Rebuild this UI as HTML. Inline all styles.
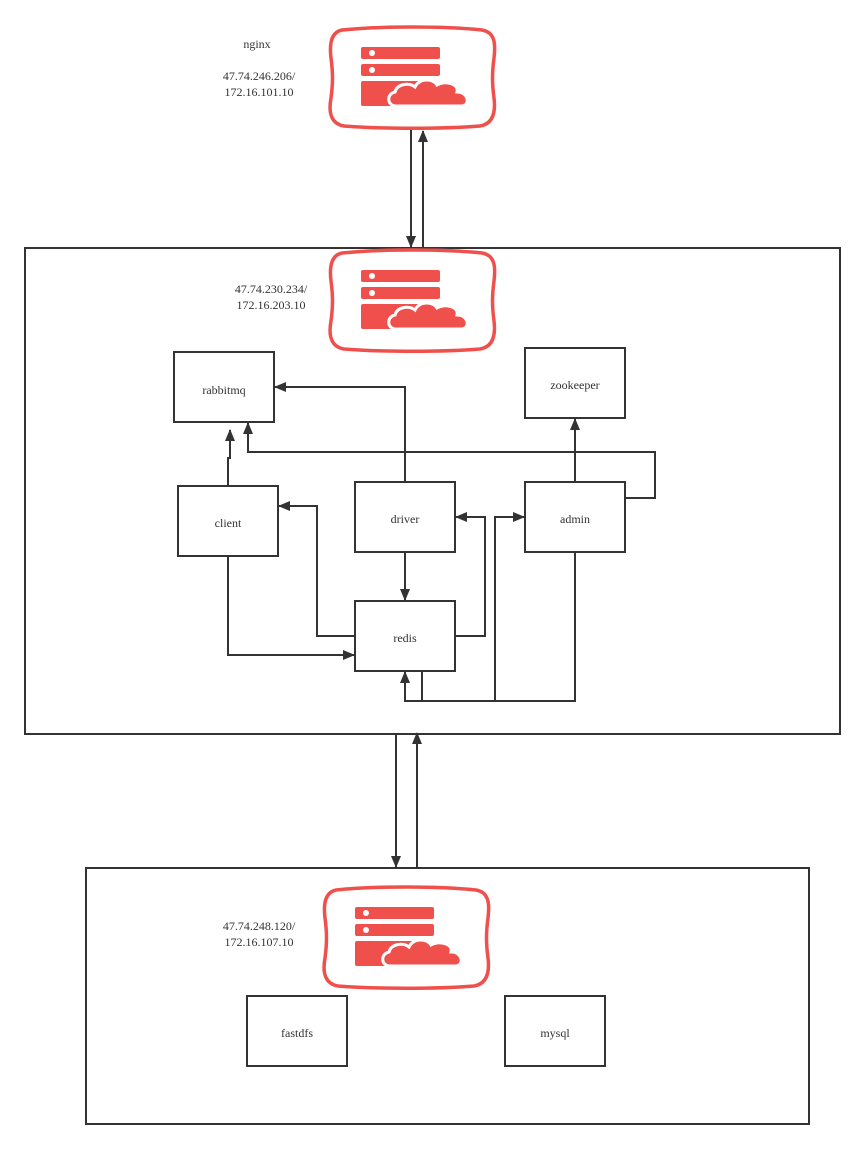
<!DOCTYPE html>
<html><head><style>body{margin:0;background:#fff}svg{display:block}text{font-family:"Liberation Serif",serif;font-size:12px;fill:#333;text-anchor:middle}</style></head><body>
<svg width="865" height="1149" viewBox="0 0 865 1149">
<defs>
<marker id="a" markerWidth="12" markerHeight="12" refX="11" refY="6" orient="auto" markerUnits="userSpaceOnUse"><path d="M0,1 L12,6 L0,11 Z" fill="#333"/></marker>
<g id="ic">
<path d="M12,2 C50,-2 114,-2 152,2 C164,4 166,14 164,30 C162,45 162,55 164,70 C166,86 162,96 150,98 C114,101 50,101 14,98 C2,96 -2,86 1,70 C3,55 3,45 1,30 C-1,14 2,4 12,2 Z" fill="#fff" stroke="#f0504c" stroke-width="3.5"/>
<rect x="31" y="19" width="79" height="12" rx="2" fill="#f0504c"/>
<rect x="31" y="36" width="79" height="12" rx="2" fill="#f0504c"/>
<circle cx="42" cy="25" r="3" fill="#fff"/><circle cx="42" cy="42" r="3" fill="#fff"/>
<rect x="31" y="53" width="70" height="25" rx="2" fill="#f0504c"/>
<path d="M66,78 C57,78 56,66 65,64 C67,56 79,54 85,59 C89,50 103,50 107,57 C115,52 129,56 127,64 C135,64 138,70 137,74 C136,78 132,78 128,78 Z" fill="#f0504c" stroke="#fff" stroke-width="3"/>
</g>
</defs>
<g fill="none" stroke="#333" stroke-width="2">
<rect x="25" y="248" width="815" height="486"/>
<rect x="86" y="868" width="723" height="256"/>
<rect x="174" y="352" width="100" height="70"/>
<rect x="525" y="348" width="100" height="70"/>
<rect x="178" y="486" width="100" height="70"/>
<rect x="355" y="482" width="100" height="70"/>
<rect x="525" y="482" width="100" height="70"/>
<rect x="355" y="601" width="100" height="70"/>
<rect x="247" y="996" width="100" height="70"/>
<rect x="505" y="996" width="100" height="70"/>
<path d="M411,128 V247" marker-end="url(#a)"/>
<path d="M423,248 V131" marker-end="url(#a)"/>
<path d="M396,734 V867" marker-end="url(#a)"/>
<path d="M417,868 V733" marker-end="url(#a)"/>
<path d="M405,482 V387 H275" marker-end="url(#a)"/>
<path d="M228,486 V458 H230 V430" marker-end="url(#a)"/>
<path d="M625,498 H655 V452 H248 V423" marker-end="url(#a)"/>
<path d="M575,482 V419" marker-end="url(#a)"/>
<path d="M405,552 V600" marker-end="url(#a)"/>
<path d="M355,636 H317 V506 H279" marker-end="url(#a)"/>
<path d="M228,556 V655 H354" marker-end="url(#a)"/>
<path d="M455,636 H485 V517 H456" marker-end="url(#a)"/>
<path d="M422,671 V701"/>
<path d="M575,552 V701 H405 V672" marker-end="url(#a)"/>
<path d="M495,701 V517 H524" marker-end="url(#a)"/>
</g>
<use href="#ic" x="330" y="28"/>
<use href="#ic" x="330" y="251"/>
<use href="#ic" x="324" y="888"/>
<text x="257" y="48">nginx</text>
<text x="259" y="80">47.74.246.206/</text>
<text x="259" y="96">172.16.101.10</text>
<text x="271" y="293">47.74.230.234/</text>
<text x="271" y="309">172.16.203.10</text>
<text x="259" y="930">47.74.248.120/</text>
<text x="259" y="946">172.16.107.10</text>
<text x="224" y="394">rabbitmq</text>
<text x="575" y="389">zookeeper</text>
<text x="228" y="527">client</text>
<text x="405" y="523">driver</text>
<text x="575" y="523">admin</text>
<text x="405" y="642">redis</text>
<text x="297" y="1037">fastdfs</text>
<text x="555" y="1037">mysql</text>
</svg>
</body></html>
